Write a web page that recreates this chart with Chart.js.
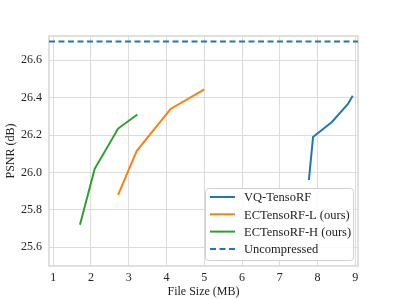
<!DOCTYPE html>
<html>
<head>
<meta charset="utf-8">
<script src="https://cdn.jsdelivr.net/npm/chart.js@4.4.1/dist/chart.umd.min.js"></script>
<style>
  html, body { margin: 0; padding: 0; background: #fff; }
  #wrap { width: 399px; height: 299px; }
</style>
</head>
<body>
<div id="wrap"><canvas id="myChart" width="399" height="299"></canvas></div>
<script>
// values
const vqSize = [7.77, 7.88, 8.38, 8.80, 8.93];
const vqPsnr = [25.96, 26.19, 26.27, 26.365, 26.41];
const ecLSize = [2.72, 3.21, 4.11, 5.0];
const ecLPsnr = [25.88, 26.115, 26.34, 26.445];
const ecHSize = [1.71, 2.1, 2.72, 3.23];
const ecHPsnr = [25.72, 26.02, 26.235, 26.31];
const uncompressedPsnr = 26.70;

const xTicks = [1, 2, 3, 4, 5, 6, 7, 8, 9];
const yTicks = [25.6, 25.8, 26.0, 26.2, 26.4, 26.6];
const xMin = 0.89, xMax = 9.07;
const yMin = 25.5, yMax = 26.73;

const toPoints = (xs, ys) => xs.map((x, i) => ({ x: x, y: ys[i] }));
const font = { family: "'Liberation Serif', 'DejaVu Serif', serif", size: 12 };

// draws the light gray frame round the plot area
const framePlugin = {
    id: 'frame',
    beforeDatasetsDraw(chart) {
        const { ctx, chartArea: a } = chart;
        ctx.save();
        ctx.strokeStyle = '#d6d6d6';
        ctx.lineWidth = 1.5;
        ctx.strokeRect(a.left, a.top, a.right - a.left, a.bottom - a.top);
        ctx.restore();
    }
};

// legend box in the lower right corner, like matplotlib's
const boxLegend = {
    id: 'boxLegend',
    afterDraw(chart) {
        const ctx = chart.ctx;
        const bx = 205, by = 188, bw = 148, bh = 72;
        ctx.save();
        ctx.fillStyle = 'rgba(255,255,255,0.85)';
        ctx.strokeStyle = '#d0d0d0';
        ctx.lineWidth = 1;
        ctx.beginPath();
        ctx.roundRect(bx + 0.5, by + 0.5, bw, bh, 3);
        ctx.fill();
        ctx.stroke();
        ctx.font = "12.5px 'Liberation Serif', serif";
        ctx.textBaseline = 'middle';
        chart.data.datasets.forEach((ds, i) => {
            const y = by + 9 + i * 17.3;
            ctx.strokeStyle = ds.borderColor;
            ctx.lineWidth = 2;
            ctx.setLineDash(ds.borderDash || []);
            ctx.beginPath();
            ctx.moveTo(bx + 5, y);
            ctx.lineTo(bx + 30, y);
            ctx.stroke();
            ctx.setLineDash([]);
            ctx.fillStyle = '#222';
            ctx.fillText(ds.label, bx + 39, y + 1);
        });
        ctx.restore();
    }
};

const ctx = document.getElementById('myChart');

const myChart = new Chart(ctx, {
    type: 'line',
    data: {
        datasets: [{
            label: 'VQ-TensoRF',
            data: toPoints(vqSize, vqPsnr),
            borderColor: '#1f77b4',
            borderWidth: 2,
            pointRadius: 0
        }, {
            label: 'ECTensoRF-L (ours)',
            data: toPoints(ecLSize, ecLPsnr),
            borderColor: '#ff7f0e',
            borderWidth: 2,
            pointRadius: 0
        }, {
            label: 'ECTensoRF-H (ours)',
            data: toPoints(ecHSize, ecHPsnr),
            borderColor: '#2ca02c',
            borderWidth: 2,
            pointRadius: 0
        }, {
            label: 'Uncompressed',
            data: [{ x: xMin, y: uncompressedPsnr }, { x: xMax, y: uncompressedPsnr }],
            borderColor: '#1f77b4',
            borderWidth: 2,
            borderDash: [6, 3.5],
            pointRadius: 0
        }]
    },
    options: {
        responsive: false,
        animation: false,
        layout: { padding: { top: 36, right: 41, left: 0, bottom: 0 } },
        plugins: {
            legend: { display: false },
            tooltip: { enabled: false }
        },
        scales: {
            x: {
                type: 'linear',
                min: xMin,
                max: xMax,
                afterBuildTicks: (s) => { s.ticks = xTicks.map(v => ({ value: v })); },
                afterFit: (s) => { s.height = 33; },
                grid: { color: '#dcdcdc', lineWidth: 1, drawTicks: false },
                border: { display: false },
                ticks: { font: font, color: '#222', padding: 5, maxRotation: 0 },
                title: { display: true, text: 'File Size (MB)', font: font, color: '#222', padding: 0 }
            },
            y: {
                type: 'linear',
                min: yMin,
                max: yMax,
                afterBuildTicks: (s) => { s.ticks = yTicks.map(v => ({ value: v })); },
                afterFit: (s) => { s.width = 49; },
                grid: { color: '#dcdcdc', lineWidth: 1, drawTicks: false },
                border: { display: false },
                ticks: { font: font, color: '#222', padding: 7, callback: (v) => v.toFixed(1) },
                title: { display: true, text: 'PSNR (dB)', font: font, color: '#222', padding: { top: 4, bottom: 4 } }
            }
        }
    },
    plugins: [framePlugin, boxLegend]
});
</script>
</body>
</html>
